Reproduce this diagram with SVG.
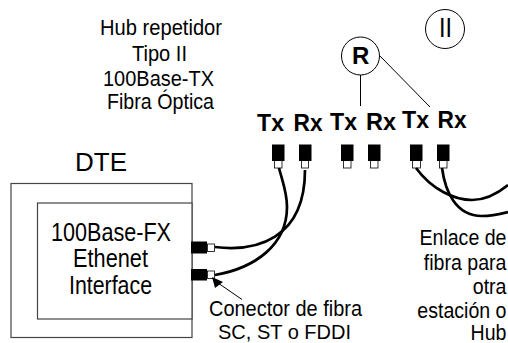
<svg xmlns="http://www.w3.org/2000/svg" width="508" height="343" viewBox="0 0 508 343">
<style>
text{font-family:"Liberation Sans",Arial,sans-serif;fill:#000;font-size:22px}
.b{font-size:25px}
.t{font-size:23px;font-weight:bold}
.e{text-anchor:end}
.box{fill:#fff;stroke:#444;stroke-width:1.2}
.line{fill:none;stroke:#000;stroke-width:1}
.cable{fill:none;stroke:#000;stroke-width:2.7}
.blk{fill:#000}
.wht{fill:#fff;stroke:#000;stroke-width:.8}
</style>
<g id="hub-label">
<text x="100" y="35" textLength="122" lengthAdjust="spacingAndGlyphs">Hub repetidor</text>
<text x="132" y="61" textLength="55" lengthAdjust="spacingAndGlyphs">Tipo II</text>
<text x="103" y="86" textLength="111" lengthAdjust="spacingAndGlyphs">100Base-TX</text>
<text x="107" y="109" textLength="107" lengthAdjust="spacingAndGlyphs">Fibra Óptica</text>
</g>
<g id="type-ii"><circle class="line" cx="445" cy="29" r="19.500"/><text x="439" y="37" style="font-size:28px" textLength="13" lengthAdjust="spacingAndGlyphs">II</text></g>
<g id="repeater"><circle class="line" cx="360.500" cy="56" r="19"/><text class="t" x="352" y="64" style="font-size:24px">R</text></g>
<g id="ports">
<text class="t" x="257" y="131" textLength="27" lengthAdjust="spacingAndGlyphs">Tx</text><text class="t" x="293.500" y="131" textLength="29" lengthAdjust="spacingAndGlyphs">Rx</text>
<text class="t" x="330" y="129.500" textLength="27" lengthAdjust="spacingAndGlyphs">Tx</text><text class="t" x="366" y="129.500" textLength="30" lengthAdjust="spacingAndGlyphs">Rx</text>
<text class="t" x="402" y="127.500" textLength="27" lengthAdjust="spacingAndGlyphs">Tx</text><text class="t" x="437.500" y="127.500" textLength="29" lengthAdjust="spacingAndGlyphs">Rx</text>
<rect class="wht" x="274.500" y="160" width="7.500" height="8"/><rect class="blk" x="272" y="144.500" width="12.500" height="16.500"/>
<rect class="wht" x="301.500" y="160" width="7" height="8"/><rect class="blk" x="299" y="144.500" width="12.500" height="16.500"/>
<rect class="wht" x="343.500" y="160" width="7.500" height="8"/><rect class="blk" x="341" y="144.500" width="12.500" height="16.500"/>
<rect class="wht" x="370.500" y="160" width="7.500" height="8"/><rect class="blk" x="368" y="144.500" width="12.500" height="16.500"/>
<rect class="wht" x="412.500" y="160" width="8" height="8"/><rect class="blk" x="410" y="144.500" width="12.500" height="16.500"/>
<rect class="wht" x="439.500" y="160" width="7.500" height="8"/><rect class="blk" x="437" y="144.500" width="12.500" height="16.500"/>
</g>
<g id="dte">
<text class="b" x="75" y="171" textLength="52" lengthAdjust="spacingAndGlyphs">DTE</text>
<rect class="box" x="11" y="183.500" width="181" height="154"/>
<rect class="box" x="37.500" y="203" width="154.500" height="116"/>
<text class="b" x="51" y="240.500" textLength="120" lengthAdjust="spacingAndGlyphs">100Base-FX</text>
<text class="b" x="73" y="267" textLength="75" lengthAdjust="spacingAndGlyphs">Ethenet</text>
<text class="b" x="69" y="294" textLength="83" lengthAdjust="spacingAndGlyphs">Interface</text>
</g>
<g id="dte-connectors">
<rect class="blk" x="191" y="241.500" width="16" height="12"/><rect class="wht" x="207.500" y="244" width="7" height="7.500"/>
<rect class="blk" x="191" y="269" width="16" height="11.500"/><rect class="wht" x="207.500" y="271" width="7" height="7.500"/>
</g>
<g id="connectors">
<line class="line" x1="360.500" y1="75" x2="360.500" y2="106"/>
<line class="line" x1="380" y1="56" x2="430" y2="107"/>
<path class="cable" d="M215 247C255 252 305 240 305 170"/>
<path class="cable" d="M215 275C255 268 287 245 287 207C287 192 282 180 279 168"/>
<path class="cable" d="M416 168C432 190 455 200 472 200C485 200 497 194 508 185"/>
<path class="cable" d="M442 168C445 190 455 216 482 216C492 216 500 214 508 212"/>
<line class="line" x1="218" y1="283" x2="242" y2="299.500"/>
<polygon class="blk" points="212,277 215,288 223,282"/>
</g>
<g id="fiber-label"><text x="209" y="316" textLength="153" lengthAdjust="spacingAndGlyphs">Conector de fibra</text><text x="218" y="338.500" textLength="133" lengthAdjust="spacingAndGlyphs" style="font-size:21px">SC, ST o FDDI</text></g>
<g id="link-label">
<text class="e" transform="translate(506.500,245) scale(.89,1)">Enlace de</text>
<text class="e" transform="translate(506.500,270) scale(.89,1)">fibra para</text>
<text class="e" transform="translate(506.500,294) scale(.89,1)">otra</text>
<text class="e" transform="translate(506.500,318) scale(.89,1)">estación o</text>
<text class="e" transform="translate(506.500,340) scale(.89,1)">Hub</text>
</g>
</svg>
